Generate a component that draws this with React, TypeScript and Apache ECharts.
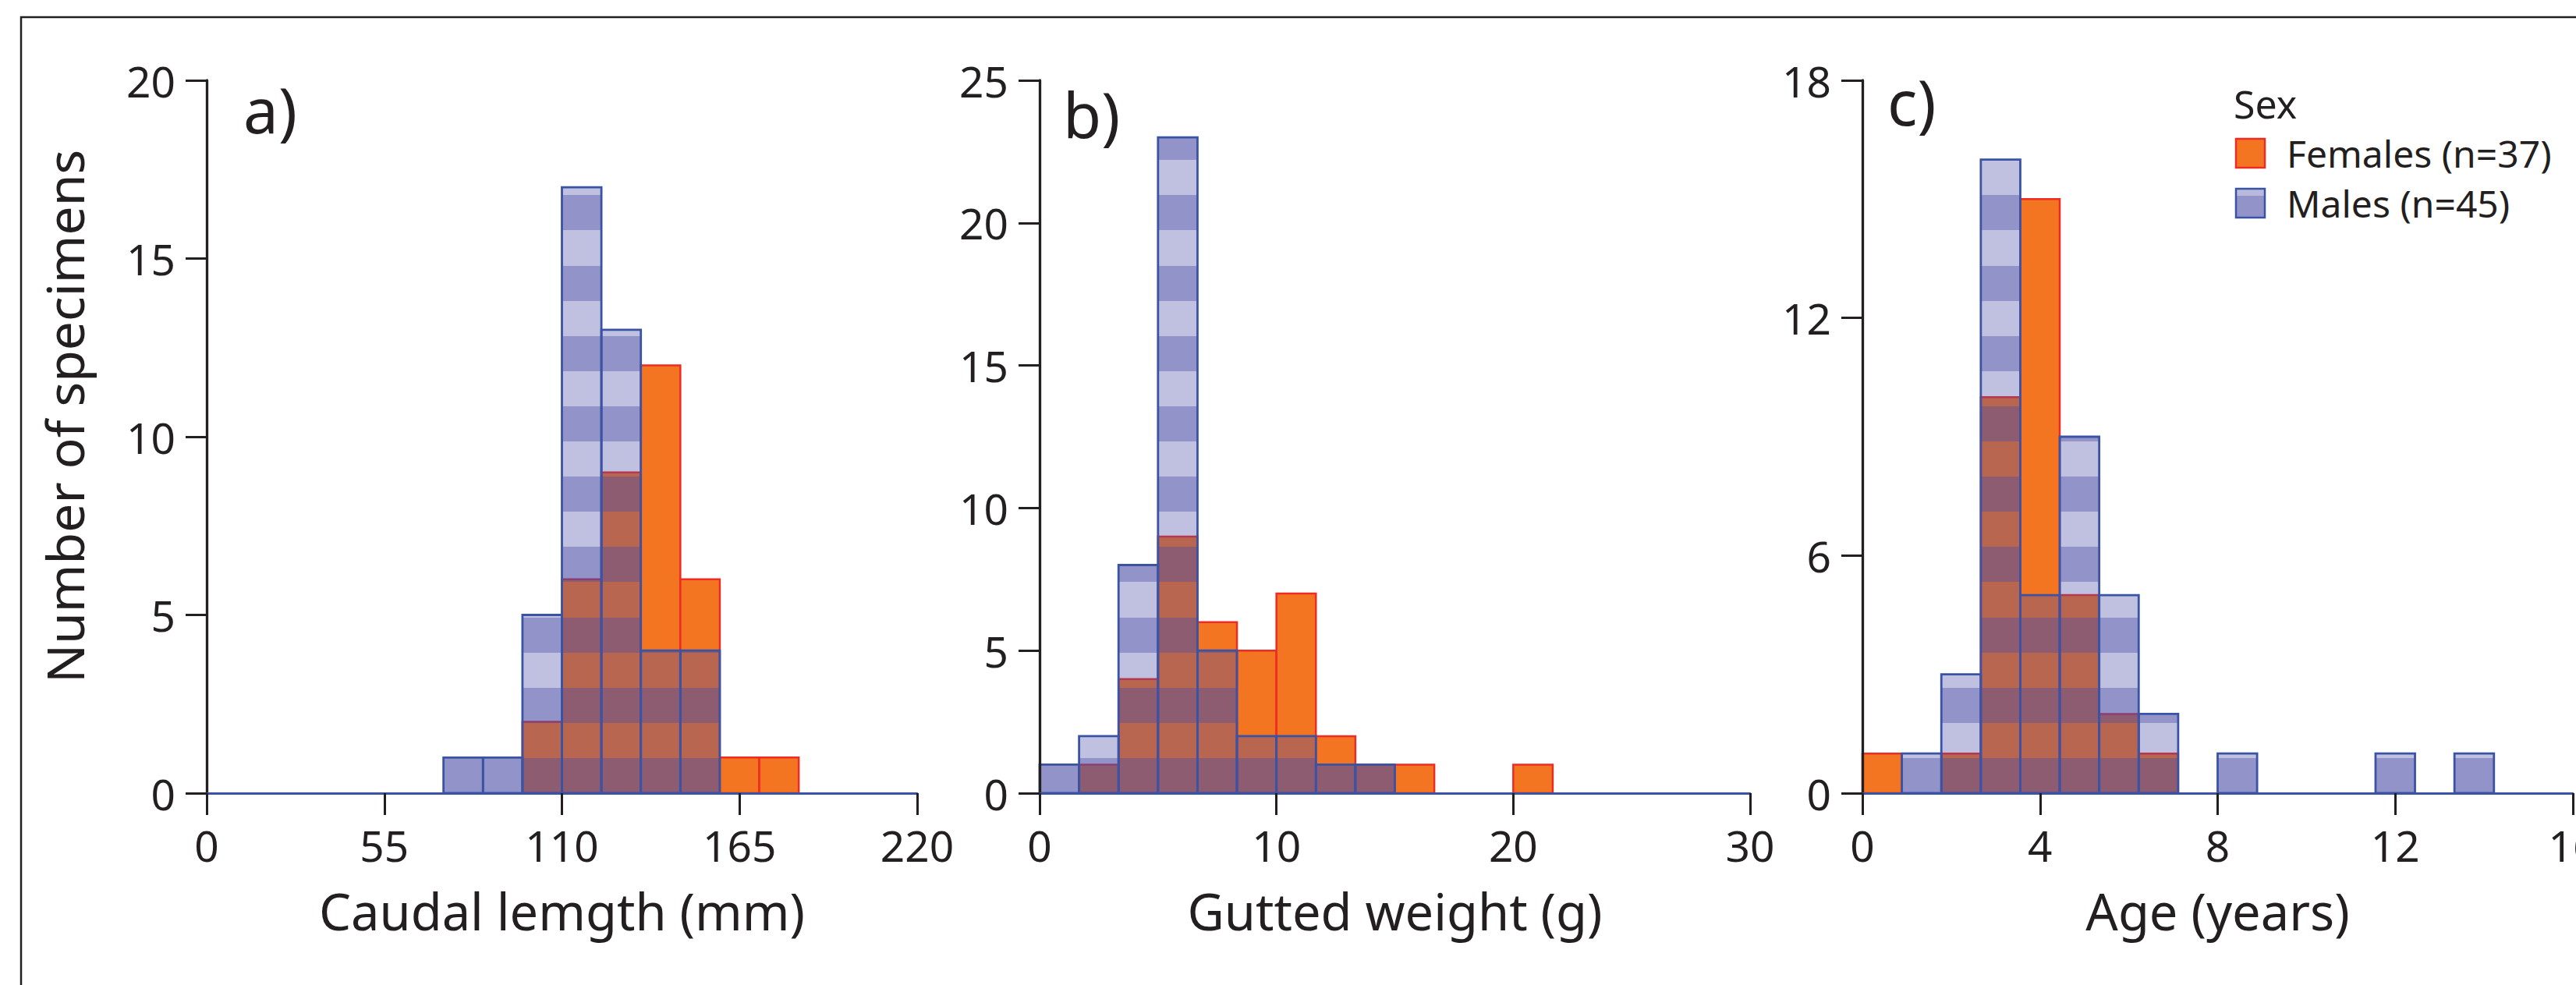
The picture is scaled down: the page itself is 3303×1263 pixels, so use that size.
import React, { useEffect, useRef } from "react";
import * as echarts from "echarts";

// ---------- data ----------
const lengthEdges = [73.33, 85.56, 97.78, 110, 122.22, 134.44, 146.67, 158.89, 171.11, 183.33];
const lengthFemales = [0, 0, 2, 6, 9, 12, 6, 1, 1];
const lengthMales = [1, 1, 5, 17, 13, 4, 4, 0, 0];

const weightEdges = [0, 1.667, 3.333, 5, 6.667, 8.333, 10, 11.667, 13.333, 15, 16.667, 18.333, 20, 21.667];
const weightFemales = [0, 1, 4, 9, 6, 5, 7, 2, 1, 1, 0, 0, 1];
const weightMales = [1, 2, 8, 23, 5, 2, 2, 1, 1, 0, 0, 0, 0];

const ageEdges = [0, 0.889, 1.778, 2.667, 3.556, 4.444, 5.333, 6.222, 7.111, 8, 8.889, 9.778, 10.667, 11.556, 12.444, 13.333, 14.222];
const ageFemales = [1, 0, 1, 10, 15, 5, 2, 1, 0, 0, 0, 0, 0, 0, 0, 0];
const ageMales = [0, 1, 3, 16, 5, 9, 5, 2, 0, 1, 0, 0, 0, 1, 0, 1];

const panelLetters = ["a)", "b)", "c)"];
const xTitles = ["Caudal lemgth (mm)", "Gutted weight (g)", "Age (years)"];
const xMax = [220, 30, 16];
const xInterval = [55, 10, 4];
const yMax = [20, 25, 18];
const yInterval = [5, 5, 6];
const yTitle = "Number of specimens";
const legendTitle = "Sex";
const seriesNames = ["Females (n=37)", "Males (n=45)"];

// ---------- styles ----------
const FONT = "'Noto Sans', 'DejaVu Sans', sans-serif";
const INK = "#231F20";
const ORANGE = "#F37421";
const RED = "#EE2B24";
const BLUE = "#3A53A4";
const MALE_LIGHT = "rgba(74,76,165,0.35)";
const MALE_DARK = "rgba(74,76,165,0.6)";
const STRIPE = 45.1;

const gridLefts = [265, 1333, 2388];
const gridTop = 103;
const gridW = 911;
const gridH = 914;
const letterPos = [
  [312, 139],
  [1363, 145],
  [2420, 129],
];

function bins(edges: number[], counts: number[]) {
  return counts.map((c, i) => [edges[i], edges[i + 1], c]);
}

function renderFemale(_params: any, api: any) {
  const c = api.value(2);
  if (!c) return { type: "group", children: [] };
  const p0 = api.coord([api.value(0), c]);
  const p1 = api.coord([api.value(1), 0]);
  return {
    type: "rect",
    shape: { x: p0[0], y: p0[1], width: p1[0] - p0[0], height: p1[1] - p0[1] },
    style: { fill: ORANGE, stroke: RED, lineWidth: 2.5 },
  };
}

function renderMale(_params: any, api: any) {
  const c = api.value(2);
  if (!c) return { type: "group", children: [] };
  const p0 = api.coord([api.value(0), c]);
  const p1 = api.coord([api.value(1), 0]);
  const top = p0[1];
  const bottom = p1[1];
  const x = p0[0];
  const w = p1[0] - p0[0];
  const children: any[] = [];
  for (let k = 0; k < 200; k++) {
    const b1 = Math.round(bottom - STRIPE * k);
    const b0 = Math.round(bottom - STRIPE * (k + 1));
    if (b1 <= top) break;
    const y0 = Math.max(b0, top);
    children.push({
      type: "rect",
      shape: { x, y: y0, width: w, height: b1 - y0 },
      style: { fill: k % 2 === 0 ? MALE_DARK : MALE_LIGHT },
    });
  }
  children.push({
    type: "rect",
    shape: { x, y: top, width: w, height: bottom - top },
    style: { fill: "none", stroke: BLUE, lineWidth: 2.8 },
  });
  return { type: "group", children };
}

export default function App() {
  const ref = useRef<HTMLDivElement>(null);

  useEffect(() => {
    if (!ref.current) return;
    const chart = echarts.init(ref.current, null, { renderer: "svg" });

    const females = [bins(lengthEdges, lengthFemales), bins(weightEdges, weightFemales), bins(ageEdges, ageFemales)];
    const males = [bins(lengthEdges, lengthMales), bins(weightEdges, weightMales), bins(ageEdges, ageMales)];

    const grids = gridLefts.map((left) => ({
      left,
      top: gridTop,
      width: gridW,
      height: gridH,
      containLabel: false,
      outerBoundsMode: "none",
    }));

    const xAxes = [0, 1, 2].map((i) => ({
      type: "value",
      gridIndex: i,
      min: 0,
      max: xMax[i],
      interval: xInterval[i],
      z: 10,
      name: xTitles[i],
      nameLocation: "middle",
      nameGap: 118,
      nameTextStyle: { fontSize: 65, lineHeight: 66, color: INK, fontFamily: FONT },
      axisLine: { show: true, onZero: false, lineStyle: { color: BLUE, width: 3 } },
      axisTick: { show: true, inside: false, length: 28, lineStyle: { color: INK, width: 3 } },
      axisLabel: { margin: 39, fontSize: 55, lineHeight: 55, color: INK, fontFamily: FONT },
      splitLine: { show: false },
    }));

    const yAxes = [0, 1, 2].map((i) => ({
      type: "value",
      gridIndex: i,
      min: 0,
      max: yMax[i],
      interval: yInterval[i],
      z: 10,
      axisLine: { show: true, lineStyle: { color: INK, width: 3.3 } },
      axisTick: { show: true, inside: false, length: 27, lineStyle: { color: INK, width: 3 } },
      axisLabel: { margin: 40, fontSize: 55, lineHeight: 55, color: INK, fontFamily: FONT },
      splitLine: { show: false },
    }));

    const series: any[] = [];
    for (let i = 0; i < 3; i++) {
      series.push({
        type: "custom",
        name: seriesNames[0],
        xAxisIndex: i,
        yAxisIndex: i,
        z: 2,
        renderItem: renderFemale,
        encode: { x: [0, 1], y: 2 },
        data: females[i],
      });
      series.push({
        type: "custom",
        name: seriesNames[1],
        xAxisIndex: i,
        yAxisIndex: i,
        z: 3,
        renderItem: renderMale,
        encode: { x: [0, 1], y: 2 },
        data: males[i],
      });
    }

    const graphic: any[] = [
      {
        type: "rect",
        silent: true,
        z: -10,
        shape: { x: 27, y: 22, width: 3400, height: 1400 },
        style: { fill: "none", stroke: INK, lineWidth: 2.5 },
      },
      {
        type: "text",
        x: 82,
        y: 534,
        rotation: Math.PI / 2,
        style: {
          text: yTitle,
          fontSize: 66,
          fontFamily: FONT,
          fill: INK,
          align: "center",
          verticalAlign: "middle",
        },
      },
      ...panelLetters.map((t, i) => ({
        type: "text",
        x: letterPos[i][0],
        y: letterPos[i][1],
        style: {
          text: t,
          fontSize: 80,
          fontFamily: FONT,
          fill: INK,
          align: "left",
          verticalAlign: "middle",
        },
      })),
      {
        type: "text",
        x: 2864,
        y: 133,
        style: { text: legendTitle, fontSize: 50, fontFamily: FONT, fill: INK, align: "left", verticalAlign: "middle" },
      },
      {
        type: "rect",
        shape: { x: 2867, y: 178, width: 37, height: 37 },
        style: { fill: ORANGE, stroke: RED, lineWidth: 2.5 },
      },
      {
        type: "rect",
        shape: { x: 2867, y: 242, width: 37, height: 37 },
        style: { fill: MALE_DARK },
      },
      {
        type: "rect",
        shape: { x: 2867, y: 242, width: 37, height: 9 },
        style: { fill: "rgba(255,255,255,0.35)" },
      },
      {
        type: "rect",
        shape: { x: 2867, y: 242, width: 37, height: 37 },
        style: { fill: "none", stroke: BLUE, lineWidth: 2.5 },
      },
      {
        type: "text",
        x: 2932,
        y: 196,
        style: { text: seriesNames[0], fontSize: 48, fontFamily: FONT, fill: INK, align: "left", verticalAlign: "middle" },
      },
      {
        type: "text",
        x: 2932,
        y: 260,
        style: { text: seriesNames[1], fontSize: 48, fontFamily: FONT, fill: INK, align: "left", verticalAlign: "middle" },
      },
    ];

    chart.setOption({
      animation: false,
      backgroundColor: "#ffffff",
      textStyle: { fontFamily: FONT },
      grid: grids,
      xAxis: xAxes,
      yAxis: yAxes,
      series,
      graphic,
    } as any);

    return () => chart.dispose();
  }, []);

  return (
    <div
      ref={ref}
      style={{ position: "fixed", left: 0, top: 0, width: 3303, height: 1263, background: "#fff" }}
    />
  );
}
